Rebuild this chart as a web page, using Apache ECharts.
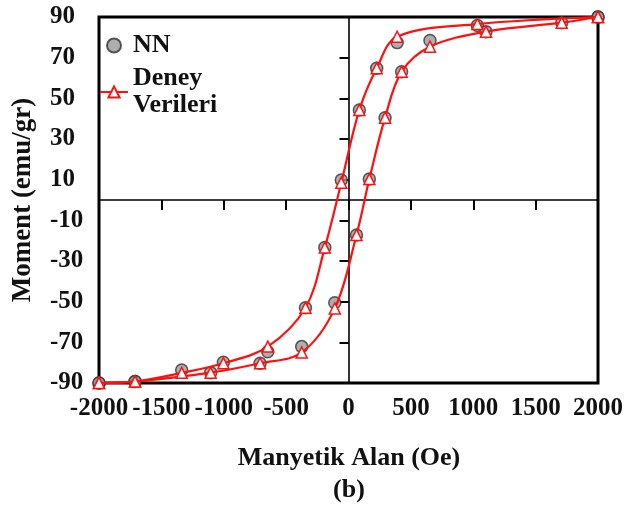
<!DOCTYPE html>
<html>
<head>
<meta charset="utf-8">
<script src="https://cdn.jsdelivr.net/npm/echarts@6/dist/echarts.min.js"></script>
<style>html,body{margin:0;padding:0;background:#fff;}#c{width:635px;height:506px;}</style>
</head>
<body>
<div id="c"></div>
<script>
// Descending branch (H from +2000 to -2000)
const descField = [2000, 1033, 390, 226, 87, -58, -190, -345, -647, -1003, -1337, -1711, -2000];
const descExp   = [90, 86.5, 80.3, 64.8, 44.3, 8.5, -23.4, -53, -72.1, -80.3, -85, -89.3, -90];
const descNN    = [90, 85.8, 77.4, 64.8, 44.3, 9.8, -23.4, -53, -74.6, -79.8, -83.6, -89.3, -90];
// Ascending branch (H from -2000 to +2000)
const ascField = [-2000, -1711, -1105, -709, -375, -110, 64, 167, 293, 426, 653, 1102, 1709, 2000];
const ascExp   = [-90, -89.3, -84.9, -80.3, -75, -53.3, -17.2, 10.3, 40.5, 63.1, 75.4, 82.8, 87.2, 90];
const ascNN    = [-90, -89.3, -84.9, -80.3, -72.1, -50.5, -17.2, 10.3, 40.5, 63.1, 78.4, 82.8, 87.2, 90];

const xTicks = { min: -2000, max: 2000, interval: 500 };
const yTicks = { min: -90, max: 90, interval: 20 };
const xTitle = 'Manyetik Alan (Oe)';
const yTitle = 'Moment (emu/gr)';
const subTitle = '(b)';
const nameNN = 'NN';
const nameExp = 'Deney Verileri';

const zip = (a, b) => a.map((v, i) => [v, b[i]]);
const FONT = '"Liberation Serif", "Times New Roman", serif';

const chart = echarts.init(document.getElementById('c'), null, { renderer: 'canvas' });
const labelStyle = { fontFamily: FONT, fontWeight: 'bold', fontSize: 25, color: '#111', formatter: v => String(v) };

chart.setOption({
  animation: false,
  backgroundColor: '#fff',
  grid: { left: 99, right: 37, top: 17, bottom: 123, show: true, borderColor: '#000', borderWidth: 3, backgroundColor: 'transparent' },
  legend: {
    orient: 'vertical', left: 94, top: 27, itemWidth: 28, itemHeight: 14, itemGap: 6,
    data: [nameNN, nameExp],
    formatter: n => n.replace(' ', '\n'),
    textStyle: { fontFamily: FONT, fontWeight: 'bold', fontSize: 26, color: '#111', lineHeight: 27 }
  },
  xAxis: [
    { type: 'value', min: xTicks.min, max: xTicks.max, interval: xTicks.interval, position: 'bottom',
      axisLine: { show: false, onZero: false }, axisTick: { show: false }, splitLine: { show: false },
      axisLabel: Object.assign({ margin: 13 }, labelStyle) },
    { type: 'value', min: xTicks.min, max: xTicks.max, interval: xTicks.interval, position: 'bottom',
      axisLine: { show: true, onZero: true, onZeroAxisIndex: 0, lineStyle: { color: '#000', width: 1.6 } },
      axisTick: { show: true, inside: false, length: 10, lineStyle: { color: '#000', width: 2 } },
      axisLabel: { show: false }, splitLine: { show: false } }
  ],
  yAxis: [
    { type: 'value', min: yTicks.min, max: yTicks.max, interval: yTicks.interval, position: 'left',
      axisLine: { show: false, onZero: false }, axisTick: { show: false }, splitLine: { show: false },
      axisLabel: Object.assign({ margin: 49, align: 'left' }, labelStyle) },
    { type: 'value', min: yTicks.min, max: yTicks.max, interval: yTicks.interval, position: 'left',
      axisLine: { show: true, onZero: true, onZeroAxisIndex: 0, lineStyle: { color: '#000', width: 1.6 } },
      axisTick: { show: true, inside: false, length: 9, lineStyle: { color: '#000', width: 2 } },
      axisLabel: { show: false }, splitLine: { show: false } }
  ],
  graphic: [
    { type: 'text', x: 349, y: 458,
      style: { text: xTitle, font: 'bold 26px ' + FONT, fill: '#111', align: 'center', verticalAlign: 'middle' } },
    { type: 'text', x: 349, y: 490,
      style: { text: subTitle, font: 'bold 26px ' + FONT, fill: '#111', align: 'center', verticalAlign: 'middle' } },
    { type: 'text', x: 23, y: 200, rotation: Math.PI / 2,
      style: { text: yTitle, font: 'bold 27px ' + FONT, fill: '#111', align: 'center', verticalAlign: 'middle' } }
  ],
  series: [
    { name: nameNN, type: 'scatter', data: zip(descField, descNN), symbol: 'circle', symbolSize: 12, z: 2,
      itemStyle: { color: '#9a9a9a', borderColor: '#333', borderWidth: 1.5 } },
    { name: nameNN, type: 'scatter', data: zip(ascField, ascNN), symbol: 'circle', symbolSize: 12, z: 2,
      itemStyle: { color: '#9a9a9a', borderColor: '#333', borderWidth: 1.5 } },
    { name: nameExp, type: 'line', data: zip(descField, descExp), smooth: 0.35, symbol: 'triangle', symbolSize: 11, z: 3,
      showAllSymbol: true,
      lineStyle: { color: '#ff1010', width: 2.2 }, itemStyle: { color: '#fff', borderColor: '#ff1010', borderWidth: 1.5 } },
    { name: nameExp, type: 'line', data: zip(ascField, ascExp), smooth: 0.35, symbol: 'triangle', symbolSize: 11, z: 3,
      showAllSymbol: true,
      lineStyle: { color: '#ff1010', width: 2.2 }, itemStyle: { color: '#fff', borderColor: '#ff1010', borderWidth: 1.5 } }
  ]
});
</script>
</body>
</html>
